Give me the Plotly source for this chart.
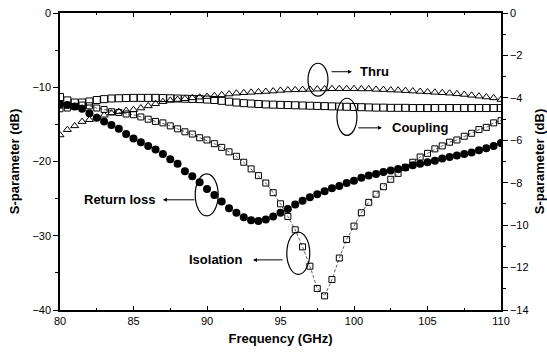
import plotly.graph_objects as go

freq = [80 + 0.5 * i for i in range(61)]

return_loss = [-12.3, -12.4, -12.6, -12.9, -13.5, -14.1, -14.6, -15.1, -15.6, -16.3,
               -16.9, -17.4, -17.9, -18.4, -19.0, -19.7, -20.3, -21.3, -22.0, -22.8,
               -23.7, -24.5, -25.4, -26.3, -26.9, -27.5, -27.9, -28.0, -27.8, -27.4,
               -26.9, -26.4, -25.8, -25.3, -24.8, -24.4, -24.0, -23.6, -23.3, -22.9,
               -22.6, -22.2, -21.9, -21.7, -21.4, -21.2, -21.0, -20.8, -20.5, -20.3,
               -20.1, -19.9, -19.6, -19.4, -19.2, -19.0, -18.8, -18.5, -18.2, -17.9,
               -17.5]

isolation = [-12.9, -12.8, -12.6, -12.4, -12.5, -12.8, -13.0, -13.3, -13.4, -13.6,
             -13.7, -14.0, -14.3, -14.6, -14.8, -15.2, -15.6, -16.0, -16.3, -16.8,
             -17.1, -17.6, -18.1, -18.7, -19.3, -20.1, -21.0, -21.9, -22.9, -24.2,
             -25.7, -27.4, -29.2, -31.5, -34.1, -37.1, -38.1, -35.9, -33.0, -30.5,
             -28.7, -26.9, -25.5, -24.4, -23.4, -22.4, -21.6, -20.8, -20.1, -19.4,
             -18.9, -18.3, -17.9, -17.4, -17.1, -16.6, -16.2, -15.7, -15.4, -14.8,
             -14.5]

thru = [-5.75, -5.5, -5.32, -5.12, -5.03, -4.92, -4.82, -4.72, -4.65, -4.6,
        -4.56, -4.48, -4.38, -4.28, -4.18, -4.12, -4.08, -4.04, -4.0, -3.97,
        -3.94, -3.9, -3.86, -3.82, -3.78, -3.76, -3.74, -3.72, -3.7, -3.68,
        -3.65, -3.63, -3.62, -3.61, -3.6, -3.59, -3.58, -3.57, -3.57, -3.57,
        -3.57, -3.58, -3.58, -3.6, -3.61, -3.63, -3.64, -3.66, -3.68, -3.7,
        -3.72, -3.74, -3.76, -3.78, -3.81, -3.84, -3.88, -3.92, -3.96, -4.0,
        -4.08]

coupling = [-3.96, -4.12, -4.22, -4.22, -4.17, -4.1, -4.06, -4.03, -4.02, -4.01,
            -4.0, -4.0, -4.0, -4.0, -4.01, -4.02, -4.03, -4.04, -4.05, -4.06,
            -4.08, -4.1, -4.14, -4.18, -4.22, -4.25, -4.27, -4.29, -4.31, -4.32,
            -4.33, -4.34, -4.35, -4.36, -4.37, -4.38, -4.39, -4.4, -4.41, -4.42,
            -4.43, -4.44, -4.45, -4.46, -4.46, -4.47, -4.47, -4.47, -4.48, -4.48,
            -4.48, -4.48, -4.48, -4.48, -4.48, -4.48, -4.48, -4.48, -4.48, -4.48,
            -4.48]

x_ticks = [80, 85, 90, 95, 100, 105, 110]
left_ticks = [0, -10, -20, -30, -40]
right_ticks = [0, -2, -4, -6, -8, -10, -12, -14]

FONT = "Liberation Sans, Arial, sans-serif"

fig = go.Figure()
fig.add_trace(go.Scatter(x=freq, y=isolation, mode="lines+markers", name="Isolation",
                         line=dict(color="#333", width=0.8, dash="3px,2px"),
                         marker=dict(symbol="square-open", size=6, color="black",
                                     line=dict(width=1, color="black"))))
fig.add_trace(go.Scatter(x=freq, y=return_loss, mode="markers", name="Return loss",
                         marker=dict(symbol="circle", size=8, color="black")))
fig.add_trace(go.Scatter(x=freq, y=thru, mode="markers", name="Thru", yaxis="y2",
                         marker=dict(symbol="triangle-up-open", size=7, color="black",
                                     line=dict(width=1, color="black"))))
fig.add_trace(go.Scatter(x=freq, y=coupling, mode="markers", name="Coupling", yaxis="y2",
                         marker=dict(symbol="square-open", size=7, color="black",
                                     line=dict(width=1, color="black"))))

axis_common = dict(showgrid=False, zeroline=False, showline=True, linecolor="black",
                   linewidth=1.5, tickcolor="black", automargin=False,
                   tickfont=dict(family=FONT, size=11, color="black"))
title_font = dict(family=FONT, size=13, color="black", weight="bold")

fig.update_layout(
    width=547, height=360,
    margin=dict(l=60, r=46, t=13, b=50),
    paper_bgcolor="white", plot_bgcolor="white",
    showlegend=False,
    xaxis=dict(range=[80, 110], tickvals=x_ticks, ticks="inside", ticklen=4,
               mirror="ticks",
               minor=dict(dtick=2.5, ticks="inside", ticklen=2, tickcolor="black"),
               title=dict(text="Frequency (GHz)", font=title_font, standoff=8),
               **axis_common),
    yaxis=dict(range=[-40, 0], tickvals=left_ticks, ticks="outside", ticklen=5,
               minor=dict(dtick=5, ticks="outside", ticklen=3, tickcolor="black"),
               title=dict(text="S-parameter (dB)", font=title_font, standoff=10),
               **axis_common),
    yaxis2=dict(range=[-14, 0], tickvals=right_ticks, ticks="outside", ticklen=5,
                overlaying="y", side="right",
                minor=dict(dtick=1, ticks="outside", ticklen=3, tickcolor="black"),
                title=dict(text="S-parameter (dB)", font=title_font, standoff=8),
                **axis_common),
)

# ellipses (x in GHz, y on left axis in dB)
ellipses = [
    (96.87, 98.23, -6.77, -11.2),
    (98.84, 100.20, -11.48, -16.47),
    (89.2, 90.76, -21.66, -27.32),
    (95.43, 96.99, -29.5, -35.2),
]
for x0, x1, y0, y1 in ellipses:
    fig.add_shape(type="circle", xref="x", yref="y", x0=x0, x1=x1, y0=y0, y1=y1,
                  line=dict(color="black", width=1.2))

labels = [
    # text, text x, anchor, y, arrow tail x, arrow head x
    ("Thru", 100.27, "left", -7.91, 98.37, 99.86),
    ("Coupling", 102.45, "left", -15.47, 100.2, 101.9),
    ("Return loss", 86.67, "right", -25.16, 89.25, 87.0),
    ("Isolation", 92.59, "right", -33.25, 95.24, 93.13),
]
for text, tx, anchor, y, tail, head in labels:
    fig.add_annotation(x=tx, y=y, xref="x", yref="y", text=text, showarrow=False,
                       xanchor=anchor, yanchor="middle",
                       font=dict(family=FONT, size=13, color="black", weight="bold"))
    fig.add_annotation(x=head, y=y, ax=tail, ay=y, xref="x", yref="y", axref="x", ayref="y",
                       text="", showarrow=True, arrowhead=2, arrowsize=0.8, arrowwidth=1,
                       arrowcolor="black")

fig.write_html("out.html", config={"displayModeBar": False},
               post_script="document.body.style.margin='0';document.body.style.overflow='hidden';")
